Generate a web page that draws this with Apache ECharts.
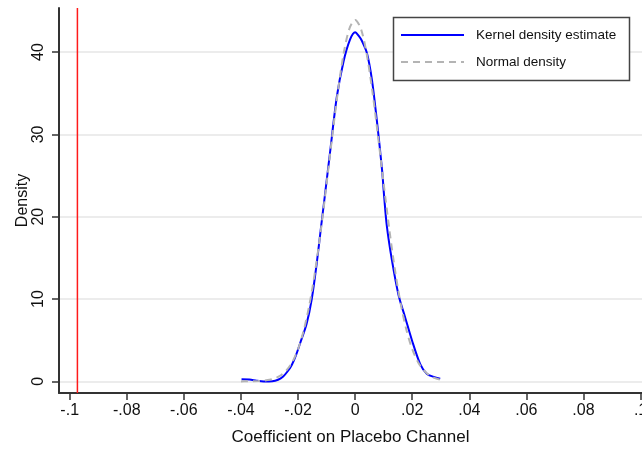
<!DOCTYPE html>
<html><head><meta charset="utf-8">
<script src="https://cdn.jsdelivr.net/npm/echarts@6/dist/echarts.min.js"></script>
<style>html,body{margin:0;padding:0;background:#fff}#c{width:642px;height:451px}</style>
</head><body><div id="c"></div>
<script>
// Kernel density estimate
const kdeX = [-0.0398,-0.0370,-0.0345,-0.0320,-0.0290,-0.0270,-0.0252,-0.0237,-0.0222,-0.0207,-0.0193,-0.0170,-0.0152,-0.0134,-0.0120,-0.0108,-0.0088,-0.0064,-0.0041,-0.0018,0.0,0.0012,0.0023,0.0041,0.0059,0.0076,0.0094,0.0102,0.0111,0.0129,0.0152,0.0175,0.0199,0.0228,0.0251,0.0275,0.0298];
const kdeY = [0.25,0.22,0.08,0.0,0.02,0.2,0.6,1.2,2.0,3.2,4.6,7.0,10.0,14.5,18.6,22.0,27.8,34.6,38.8,41.5,42.4,42.0,41.4,39.9,36.6,31.7,25.8,22.3,18.9,14.7,10.5,7.8,5.0,2.1,0.93,0.55,0.33];
// Normal density
const normX = [-0.040,-0.038,-0.036,-0.034,-0.032,-0.030,-0.028,-0.026,-0.024,-0.022,-0.020,-0.018,-0.016,-0.014,-0.012,-0.010,-0.008,-0.006,-0.004,-0.002,0.0,0.002,0.004,0.006,0.008,0.010,0.012,0.014,0.016,0.018,0.020,0.022,0.024,0.026,0.028,0.030];
const normY = [0.0,0.01,0.02,0.04,0.09,0.19,0.39,0.74,1.36,2.36,3.92,6.21,9.36,13.44,18.4,24.0,29.83,35.32,39.86,42.85,43.9,42.85,39.86,35.32,29.83,24.0,18.4,13.44,9.36,6.21,3.92,2.36,1.36,0.74,0.39,0.19];
// Placebo reference line
const placeboValue = -0.0973;
// Axis ranges and tick labels
const xRange = [-0.10375, 0.1005];
const yRange = [-1.41, 45.35];
const xTickValues = [-0.1,-0.08,-0.06,-0.04,-0.02,0,0.02,0.04,0.06,0.08,0.1];
const xTickLabels = ['-.1','-.08','-.06','-.04','-.02','0','.02','.04','.06','.08','.1'];
const yTickValues = [0,10,20,30,40];
const yTickLabels = ['0','10','20','30','40'];
const seriesNames = ['Kernel density estimate','Normal density'];

const chart = echarts.init(document.getElementById('c'), null, {renderer:'canvas'});
const font = 'Liberation Sans, Arial, sans-serif';
const fmtX = v => { for (let i=0;i<xTickValues.length;i++) if (Math.abs(v-xTickValues[i])<1e-9) return xTickLabels[i]; return ''; };
const fmtY = v => { for (let i=0;i<yTickValues.length;i++) if (Math.abs(v-yTickValues[i])<1e-9) return yTickLabels[i]; return ''; };
chart.setOption({
  animation:false,
  backgroundColor:'#fff',
  grid:{left:59, right:0, top:8, bottom:58, containLabel:false, outerBoundsMode:'none'},
  xAxis:{type:'value', min:xRange[0], max:xRange[1],
    name:'Coefficient on Placebo Channel', nameLocation:'middle', nameGap:36, nameMoveOverlap:false,
    nameTextStyle:{fontFamily:font, fontSize:17, color:'#111'},
    axisLine:{show:true, onZero:false, lineStyle:{color:'#333', width:2}},
    axisTick:{show:true, length:7, customValues:xTickValues, lineStyle:{color:'#333', width:1.5}},
    axisLabel:{customValues:xTickValues, formatter:fmtX, margin:10, fontFamily:font, fontSize:16, color:'#111'},
    splitLine:{show:false}},
  yAxis:{type:'value', min:yRange[0], max:yRange[1],
    name:'Density', nameLocation:'middle', nameGap:28, nameRotate:90, nameMoveOverlap:false,
    nameTextStyle:{fontFamily:font, fontSize:16, color:'#111'},
    axisLine:{show:true, onZero:false, lineStyle:{color:'#333', width:2}},
    axisTick:{show:true, length:7, customValues:yTickValues, lineStyle:{color:'#333', width:1.5}},
    axisLabel:{customValues:yTickValues, formatter:fmtY, rotate:90, margin:12, fontFamily:font, fontSize:16, color:'#111'},
    splitLine:{show:true, lineStyle:{color:'#e6e6e6', width:1.5}}},
  legend:{left:400, top:28, orient:'vertical', padding:0, itemWidth:63, itemHeight:14, itemGap:13,
    itemStyle:{opacity:0},
    textStyle:{fontFamily:font, fontSize:13.5, color:'#111', padding:[0,0,0,7]}, z:5,
    data:seriesNames},
  graphic:[{type:'rect', z:4, shape:{x:393.5, y:17.5, width:236, height:63},
    style:{fill:'#fff', stroke:'#444', lineWidth:1.5}}],
  series:[
    {name:'placebo', type:'line', symbol:'none', z:1, silent:true,
     lineStyle:{color:'#ff1a1a', width:1.5}, itemStyle:{color:'#ff1a1a'},
     data:[[placeboValue, yRange[0]], [placeboValue, yRange[1]]]},
    {name:seriesNames[0], type:'line', symbol:'none', smooth:0.3, z:2,
     lineStyle:{color:'#0000ff', width:2}, itemStyle:{color:'#0000ff'},
     data:kdeX.map((x,i)=>[x,kdeY[i]])},
    {name:seriesNames[1], type:'line', symbol:'none', smooth:0.3, z:3,
     lineStyle:{color:'#b4b4b4', width:2, type:[7,5]}, itemStyle:{color:'#b4b4b4'},
     data:normX.map((x,i)=>[x,normY[i]])}
  ]
});
</script></body></html>
